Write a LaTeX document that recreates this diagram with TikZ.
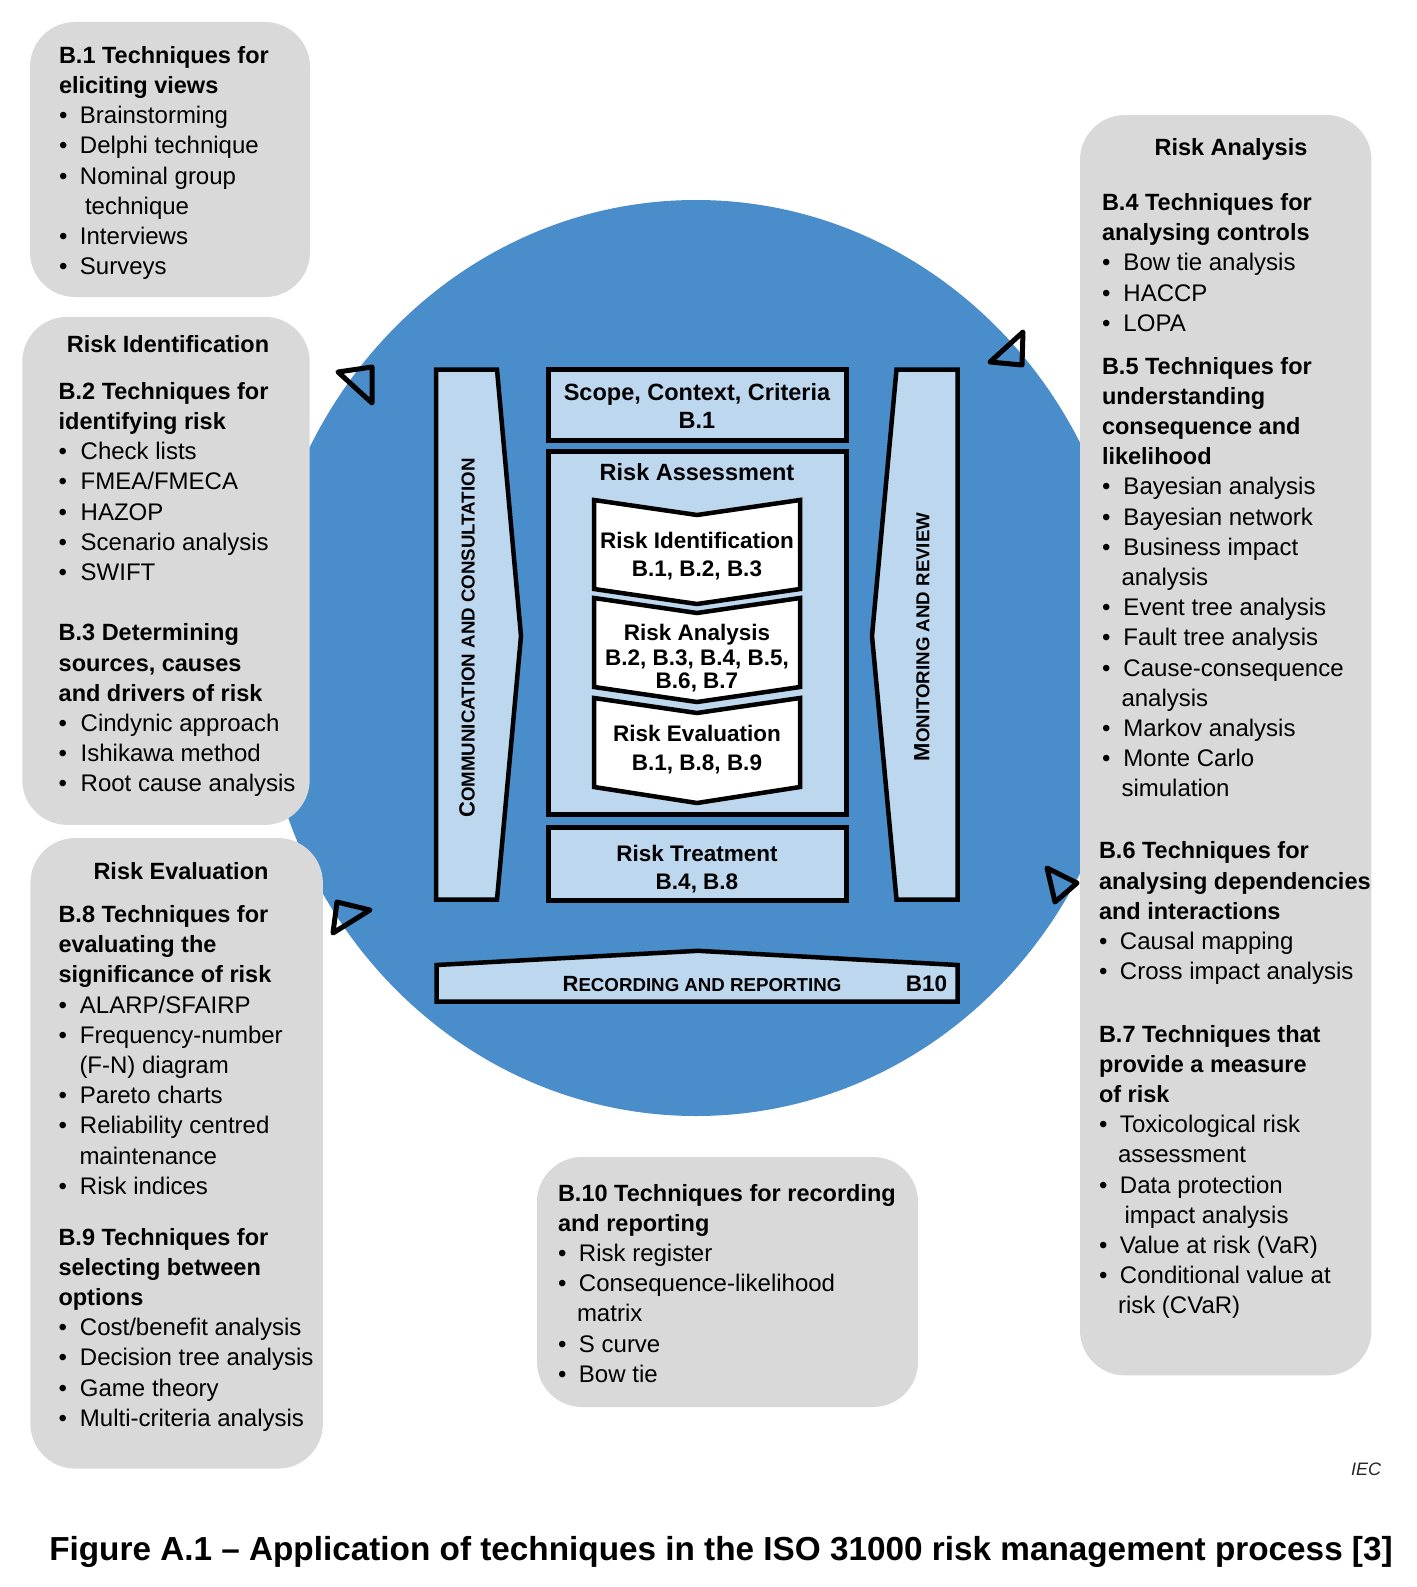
\documentclass[tikz,border=0pt]{standalone}
\usepackage{fontspec}
\setmainfont{Liberation Sans}
\definecolor{cblue}{HTML}{4A8DCB}
\definecolor{lblue}{HTML}{BDD7EE}
\definecolor{bgray}{HTML}{D9D9D9}
\newlength\bw
\setlength\bw{21.5pt}
\newcommand\bi[1]{\leavevmode\makebox[\bw][l]{\textbullet}#1\par}
\newcommand\hd[1]{{\bfseries\fontsize{23.5}{30.2}\selectfont #1\par}}
\newcommand\ct[2]{\leavevmode\hspace*{#1}#2\par}
\newcommand\blk{\leavevmode\par}
\newcommand\txtfont{\fontsize{24}{30.2}\selectfont\setlength\parindent{0pt}\setlength\parskip{0pt}}
\newcommand\scs[1]{{\fontsize{18.7}{18.7}\selectfont #1}}
\begin{document}
\begin{tikzpicture}[x=1pt,y=-1pt,
  graybox/.style={fill=bgray,rounded corners=45pt,inner sep=0pt,outer sep=0pt},
  bluebox/.style={draw=black,fill=lblue,line width=5pt,inner sep=0pt,outer sep=0pt},
  bar/.style={draw=black,fill=lblue,line width=4.5pt,line join=miter},
  chev/.style={draw=black,fill=white,line width=4.5pt,line join=miter},
  tri/.style={draw=black,line width=5pt,line join=round},
  tb/.style={anchor=base west,inner sep=0pt,outer sep=0pt},
  hdc/.style={anchor=base,inner sep=0pt,font=\bfseries\fontsize{23.5}{28}\selectfont},
  clab/.style={anchor=base,inner sep=0pt,font=\bfseries\fontsize{22.5}{27}\selectfont},
  slab/.style={anchor=base,inner sep=0pt,font=\bfseries\fontsize{23.5}{28}\selectfont},
  sclab/.style={inner sep=0pt,font=\bfseries\fontsize{22}{27}\selectfont}]
\useasboundingbox (0,0) rectangle (1416,1587);
\fill[white] (0,0) rectangle (1416,1587);
% circle
\fill[cblue] (696,658) ellipse [x radius=435, y radius=458];
% gray boxes
\node[graybox,minimum width=280pt,minimum height=275pt] (b1) at (170,159.5) {};
\node[graybox,minimum width=287.4pt,minimum height=508.1pt] (b2) at (166,570.85) {};
\node[graybox,minimum width=292.5pt,minimum height=630.6pt] (b3) at (176.65,1153.3) {};
\node[graybox,minimum width=291.4pt,minimum height=1260.4pt] (b4) at (1225.7,745.2) {};
\node[graybox,minimum width=381pt,minimum height=250pt] (b5) at (727.5,1282) {};
% arrowheads
\draw[tri] (338,372) -- (372,367) -- (372,403) -- cycle;
\draw[tri] (990,362) -- (1023,332) -- (1022,365) -- cycle;
\draw[tri] (337,902) -- (370,910) -- (333,933) -- cycle;
\draw[tri] (1047,868) -- (1077,883) -- (1055,902) -- cycle;
% side bars
\draw[bar] (436,369.5) -- (497,369.5) -- (521,636) -- (497,899.5) -- (436,899.5) -- cycle;
\draw[bar] (957.5,369.5) -- (896.5,369.5) -- (872,636) -- (896.5,899.5) -- (957.5,899.5) -- cycle;
\draw[bar] (436.5,965) -- (698,950.8) -- (957.5,965) -- (957.5,1001.5) -- (436.5,1001.5) -- cycle;
% center boxes
\node[bluebox,minimum width=297.9pt,minimum height=71pt] (scope) at (697.15,404.7) {};
\node[bluebox,minimum width=297.9pt,minimum height=362.4pt] (assess) at (697.15,633) {};
\node[bluebox,minimum width=297.9pt,minimum height=73.3pt] (treat) at (697.15,864.15) {};
% chevrons
\draw[chev] (594,500) -- (697,515) -- (800,500) -- (800,589) -- (697,604) -- (594,589) -- cycle;
\draw[chev] (594,598) -- (697,613) -- (800,598) -- (800,687) -- (697,702) -- (594,687) -- cycle;
\draw[chev] (594,698) -- (697,713) -- (800,698) -- (800,787) -- (697,803) -- (594,787) -- cycle;
% center labels
\node[slab] (l1) at (697,400.7) {Scope, Context, Criteria};
\node[slab] (l2) at (697,428.3) {B.1};
\node[slab] (l3) at (697,480.7) {Risk Assessment};
\node[clab] (l4) at (697,548.3) {Risk Identification};
\node[clab] (l5) at (697,576.7) {B.1, B.2, B.3};
\node[clab] (l6) at (697,640) {Risk Analysis};
\node[clab] (l7) at (697,665) {B.2, B.3, B.4, B.5,};
\node[clab] (l8) at (697,688.3) {B.6, B.7};
\node[clab] (l9) at (697,741.7) {Risk Evaluation};
\node[clab] (l10) at (697,770) {B.1, B.8, B.9};
\node[clab] (l11) at (697,861.7) {Risk Treatment};
\node[clab] (l12) at (697,889.3) {B.4, B.8};
\node[sclab,anchor=base] (l13) at (702,991.7) {R\scs{ECORDING AND REPORTING}};
\node[clab,anchor=base west] (l14) at (905.7,991.7) {B10};
\node[sclab,rotate=90] (l15) at (467,638) {C\scs{OMMUNICATION AND CONSULTATION}};
\node[sclab,rotate=90] (l16) at (922,637) {M\scs{ONITORING AND REVIEW}};
% box 1
\node[tb] (t1) at (59,63.3) {\begin{minipage}[t]{300pt}\txtfont\setlength\bw{21pt}
\hd{B.1 Techniques for}
\hd{eliciting views}
\bi{Brainstorming}
\bi{Delphi technique}
\bi{Nominal group}
\ct{26pt}{technique}
\bi{Interviews}
\bi{Surveys}
\end{minipage}};
% box 2
\node[hdc] (h2) at (168,352.7) {Risk Identification};
\node[tb] (t2) at (58.7,399.3) {\begin{minipage}[t]{300pt}\txtfont\setlength\bw{22pt}
\hd{B.2 Techniques for}
\hd{identifying risk}
\bi{Check lists}
\bi{FMEA/FMECA}
\bi{HAZOP}
\bi{Scenario analysis}
\bi{SWIFT}
\blk
\hd{B.3 Determining}
\hd{sources, causes}
\hd{and drivers of risk}
\bi{Cindynic approach}
\bi{Ishikawa method}
\bi{Root cause analysis}
\end{minipage}};
% box 3
\node[hdc] (h3) at (181,879) {Risk Evaluation};
\node[tb] (t3) at (58.5,922.5) {\begin{minipage}[t]{300pt}\txtfont\setlength\bw{21.5pt}
\hd{B.8 Techniques for}
\hd{evaluating the}
\hd{significance of risk}
\bi{ALARP/SFAIRP}
\bi{Frequency-number}
\ct{21pt}{(F-N) diagram}
\bi{Pareto charts}
\bi{Reliability centred}
\ct{21pt}{maintenance}
\bi{Risk indices}
\end{minipage}};
\node[tb] (t4) at (58.5,1245) {\begin{minipage}[t]{300pt}\txtfont\setlength\bw{21.5pt}
\hd{B.9 Techniques for}
\hd{selecting between}
\hd{options}
\bi{Cost/benefit analysis}
\bi{Decision tree analysis}
\bi{Game theory}
\bi{Multi-criteria analysis}
\end{minipage}};
% box 4
\node[hdc] (h4) at (1231,155) {Risk Analysis};
\node[tb] (t5) at (1102,210.5) {\begin{minipage}[t]{300pt}\txtfont\setlength\bw{21.5pt}
\hd{B.4 Techniques for}
\hd{analysing controls}
\bi{Bow tie analysis}
\bi{HACCP}
\bi{LOPA}
\end{minipage}};
\node[tb] (t6) at (1102,374) {\begin{minipage}[t]{300pt}\txtfont\setlength\bw{21.5pt}
\hd{B.5 Techniques for}
\hd{understanding}
\hd{consequence and}
\hd{likelihood}
\bi{Bayesian analysis}
\bi{Bayesian network}
\bi{Business impact}
\ct{19.5pt}{analysis}
\bi{Event tree analysis}
\bi{Fault tree analysis}
\bi{Cause-consequence}
\ct{19.5pt}{analysis}
\bi{Markov analysis}
\bi{Monte Carlo}
\ct{19.5pt}{simulation}
\end{minipage}};
\node[tb] (t7) at (1099,858.8) {\begin{minipage}[t]{300pt}\txtfont\setlength\bw{21pt}
\hd{B.6 Techniques for}
\hd{analysing dependencies}
\hd{and interactions}
\bi{Causal mapping}
\bi{Cross impact analysis}
\end{minipage}};
\node[tb] (t8) at (1099,1042) {\begin{minipage}[t]{300pt}\txtfont\setlength\bw{21pt}
\hd{B.7 Techniques that}
\hd{provide a measure}
\hd{of risk}
\bi{Toxicological risk}
\ct{19pt}{assessment}
\bi{Data protection}
\ct{25.5pt}{impact analysis}
\bi{Value at risk (VaR)}
\bi{Conditional value at}
\ct{19pt}{risk (CVaR)}
\end{minipage}};
% box 5
\node[tb] (t9) at (558,1201) {\begin{minipage}[t]{360pt}\txtfont\setlength\bw{21pt}
\hd{B.10 Techniques for recording}
\hd{and reporting}
\bi{Risk register}
\bi{Consequence-likelihood}
\ct{19pt}{matrix}
\bi{S curve}
\bi{Bow tie}
\end{minipage}};
% IEC and caption
\node[tb,font=\itshape\fontsize{18}{20}\selectfont,text=black!85] (iec) at (1351,1475) {IEC};
\node[anchor=base,inner sep=0pt,font=\bfseries\fontsize{33.3}{36}\selectfont] (cap) at (721,1560) {Figure A.1 -- Application of techniques in the ISO 31000 risk management process [3]};
\end{tikzpicture}
\end{document}
